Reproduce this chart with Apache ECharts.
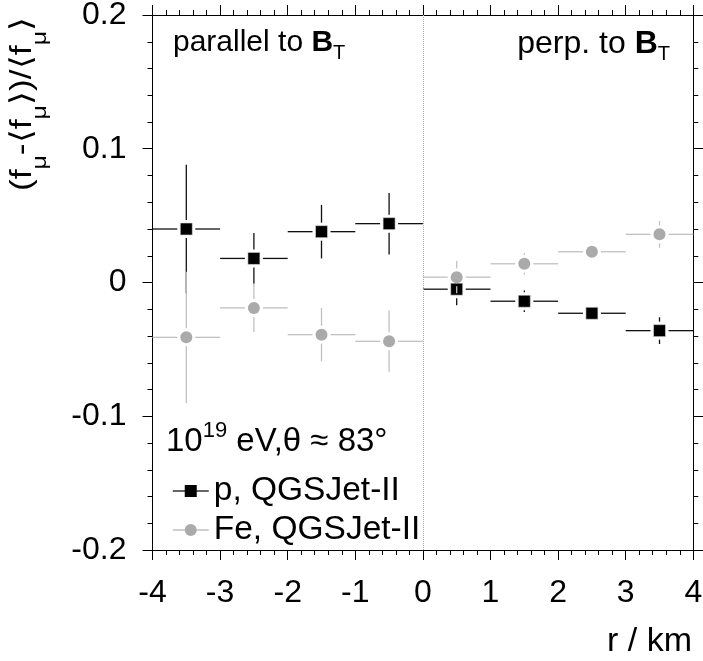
<!DOCTYPE html>
<html>
<head>
<meta charset="utf-8">
<script src="https://cdn.jsdelivr.net/npm/echarts@6/dist/echarts.min.js"></script>
<style>
  html, body { margin: 0; padding: 0; background: #fff; }
  #chart { width: 703px; height: 661px; }
</style>
</head>
<body>
<div id="chart"></div>
<script>
// bins in r / km (centre, half width)
const binCentres = [-3.5, -2.5, -1.5, -0.5, 0.5, 1.5, 2.5, 3.5];
const binHalfWidth = 0.5;

// proton, QGSJet-II
const protonValues = [0.040, 0.018, 0.038, 0.044, -0.005, -0.014, -0.023, -0.036];
const protonErrors = [0.048, 0.019, 0.020, 0.023, 0.012, 0.008, 0.004, 0.010];

// iron, QGSJet-II
const ironValues = [-0.041, -0.019, -0.039, -0.044, 0.004, 0.014, 0.023, 0.036];
const ironErrors = [0.049, 0.018, 0.020, 0.023, 0.012, 0.008, 0.004, 0.010];

// axis ranges / ticks
const xTicks = [-4, -3, -2, -1, 0, 1, 2, 3, 4];
const yTicks = [-0.2, -0.1, 0, 0.1, 0.2];

const FONT = 'Liberation Sans, Arial, Helvetica, sans-serif';

function points(values) {
  return binCentres.map((x, i) => [x, values[i]]);
}
function withErrors(values, errors) {
  return binCentres.map((x, i) => [x, values[i], errors[i]]);
}

// horizontal bin width + vertical error, with a gap round the marker
function errorBars(color, gap) {
  return function (params, api) {
    const x = api.value(0), y = api.value(1), e = api.value(2);
    const c = api.coord([x, y]);
    const l = api.coord([x - binHalfWidth, y]);
    const r = api.coord([x + binHalfWidth, y]);
    const t = api.coord([x, y + e]);
    const b = api.coord([x, y - e]);
    const style = { stroke: color, lineWidth: 1.3, fill: null };
    const kids = [];
    const seg = (x1, y1, x2, y2) => kids.push({ type: 'line', shape: { x1, y1, x2, y2 }, style });
    seg(l[0], c[1], c[0] - gap, c[1]);
    seg(c[0] + gap, c[1], r[0], c[1]);
    if (c[1] - t[1] > gap) {
      seg(c[0], t[1], c[0], c[1] - gap);
      seg(c[0], c[1] + gap, c[0], b[1]);
    }
    return { type: 'group', children: kids };
  };
}

function axisCommon(ticks, step) {
  return {
    type: 'value',
    min: ticks[0],
    max: ticks[ticks.length - 1],
    interval: step,
    axisLine: { show: true, onZero: false, lineStyle: { color: '#000', width: 1 } },
    axisTick: { show: true, length: 10, lineStyle: { color: '#000', width: 1 } },
    minorTick: { show: true, splitNumber: 5, length: 5, lineStyle: { color: '#000', width: 1 } },
    splitLine: { show: false },
    minorSplitLine: { show: false }
  };
}

const chart = echarts.init(document.getElementById('chart'));

const option = {
  animation: false,
  backgroundColor: '#fff',
  grid: { left: 152.5, right: 9.7, top: 15, bottom: 111, outerBoundsMode: 'none' },
  xAxis: [
    Object.assign(axisCommon(xTicks, 1), {
      position: 'bottom',
      axisLabel: { show: true, margin: 27, color: '#000', fontSize: 32, fontFamily: FONT }
    }),
    Object.assign(axisCommon(xTicks, 1), { position: 'top', axisLabel: { show: false } })
  ],
  yAxis: [
    Object.assign(axisCommon(yTicks, 0.1), {
      position: 'left',
      axisLabel: { show: true, margin: 26, color: '#000', fontSize: 32, fontFamily: FONT }
    }),
    Object.assign(axisCommon(yTicks, 0.1), { position: 'right', axisLabel: { show: false } })
  ],
  legend: {
    orient: 'vertical',
    left: 167,
    top: 469,
    itemWidth: 36,
    itemHeight: 15,
    itemGap: 5,
    textStyle: { color: '#000', fontSize: 33.5, fontFamily: FONT },
    data: [
      {
        name: 'p, QGSJet-II',
        itemStyle: { borderWidth: 0 },
        lineStyle: { opacity: 1, color: '#333', width: 1.5 }
      },
      {
        name: 'Fe, QGSJet-II',
        itemStyle: { borderWidth: 0 },
        lineStyle: { opacity: 1, color: '#c0c0c0', width: 1.5 }
      }
    ]
  },
  series: [
    {
      name: 'p errors',
      type: 'custom',
      renderItem: errorBars('#111', 9),
      encode: { x: 0, y: 1 },
      data: withErrors(protonValues, protonErrors),
      z: 2,
      markLine: {
        silent: true,
        symbol: 'none',
        label: { show: false },
        lineStyle: { type: 'dotted', color: '#aaa', width: 1 },
        data: [{ xAxis: 0 }]
      }
    },
    {
      name: 'p, QGSJet-II',
      type: 'line',
      data: points(protonValues),
      symbol: 'rect',
      symbolSize: 12,
      showSymbol: true,
      lineStyle: { opacity: 0 },
      itemStyle: { color: '#000', borderColor: '#ddd', borderWidth: 0.6 },
      z: 3
    },
    {
      name: 'Fe errors',
      type: 'custom',
      renderItem: errorBars('#c0c0c0', 9),
      encode: { x: 0, y: 1 },
      data: withErrors(ironValues, ironErrors),
      z: 4
    },
    {
      name: 'Fe, QGSJet-II',
      type: 'line',
      data: points(ironValues),
      symbol: 'circle',
      symbolSize: 12,
      showSymbol: true,
      lineStyle: { opacity: 0 },
      itemStyle: { color: '#aaaaaa' },
      z: 5
    }
  ],
  graphic: [
    {
      type: 'text', left: 173, top: 28,
      style: {
        text: '{n|parallel to }{b|B}{s|T}',
        rich: {
          n: { fontSize: 30, fontFamily: FONT, fill: '#000' },
          b: { fontSize: 30, fontFamily: FONT, fontWeight: 'bold', fill: '#000' },
          s: { fontSize: 20, fontFamily: FONT, fill: '#000', padding: [20, 0, 0, 0] }
        }
      }
    },
    {
      type: 'text', right: 33, top: 28,
      style: {
        text: '{n|perp. to }{b|B}{s|T}',
        rich: {
          n: { fontSize: 32, fontFamily: FONT, fill: '#000' },
          b: { fontSize: 32, fontFamily: FONT, fontWeight: 'bold', fill: '#000' },
          s: { fontSize: 20, fontFamily: FONT, fill: '#000', padding: [20, 0, 0, 0] }
        }
      }
    },
    {
      type: 'text', left: 166, top: 420,
      style: {
        text: '{n|10}{p|19}{n| eV,θ ≈ 83°}',
        rich: {
          n: { fontSize: 33, fontFamily: FONT, fill: '#000' },
          p: { fontSize: 22, fontFamily: FONT, fill: '#000', padding: [0, 0, 22, 0] }
        }
      }
    },
    {
      type: 'text', right: 11, top: 625,
      style: { text: 'r / km', fontSize: 34, fontFamily: FONT, fill: '#000' }
    },
    {
      type: 'text', x: 22.5, y: 104, rotation: Math.PI / 2, scaleX: 1.18,
      style: {
        text: '{n|(f}{s|μ}{n|-⟨f}{s|μ}{n|⟩)/⟨f}{s|μ}{n|⟩}',
        align: 'center',
        verticalAlign: 'middle',
        rich: {
          n: { fontSize: 30, fontFamily: FONT, fill: '#000' },
          s: { fontSize: 21, fontFamily: FONT, fill: '#000', padding: [36, 0, 0, 0] }
        }
      }
    }
  ]
};

chart.setOption(option);
</script>
</body>
</html>
